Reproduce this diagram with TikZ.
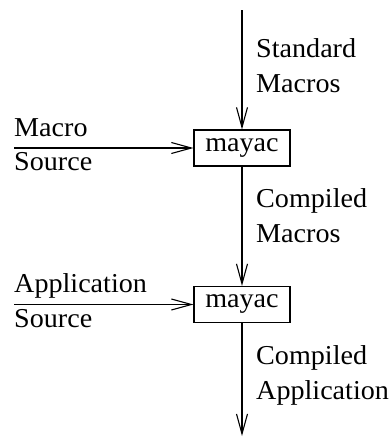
\documentclass[tikz,border=0pt]{standalone}
\usepackage{fontspec}
\setmainfont{Liberation Serif}[FakeStretch=1.03]
\usetikzlibrary{arrows.meta}
\tikzset{
  flow/.style={line width=1.1pt, -{Straight Barb[length=20pt,width=11pt,line width=1.1pt]}},
  proc/.style={draw, line width=1.1pt, minimum width=96pt, minimum height=36pt, inner sep=0pt},
  lbl/.style={inner sep=0pt, anchor=base west, align=left}
}
\begin{document}
\begin{tikzpicture}[x=1pt,y=-1pt,font=\fontsize{27.3}{35}\selectfont]
\useasboundingbox (0,0) rectangle (391,437);
\node[proc] (m1) at (242,148) {mayac};
\node[proc] (m2) at (242,304.5) {mayac};
\coordinate (top) at (242,10);
\coordinate (bot) at (242,436);
\coordinate (l1) at (14,148);
\coordinate (l2) at (14,304.5);
\draw[flow] (top) -- (m1.north);
\draw[flow] (m1.south) -- (m2.north);
\draw[flow] (m2.south) -- (bot);
\draw[flow] (l1) -- (m1.west);
\draw[flow] (l2) -- (m2.west);
\node[lbl] (t1) at (256,92) {Standard\\Macros};
\node[lbl] (t2) at (256,242) {Compiled\\Macros};
\node[lbl] (t3) at (256,399) {Compiled\\Application};
\node[lbl] (s1) at (14,136) {Macro};
\node[lbl] (s1b) at (14,170) {Source};
\node[lbl] (s2) at (14,292) {Application};
\node[lbl] (s2b) at (14,327) {Source};
\end{tikzpicture}
\end{document}
